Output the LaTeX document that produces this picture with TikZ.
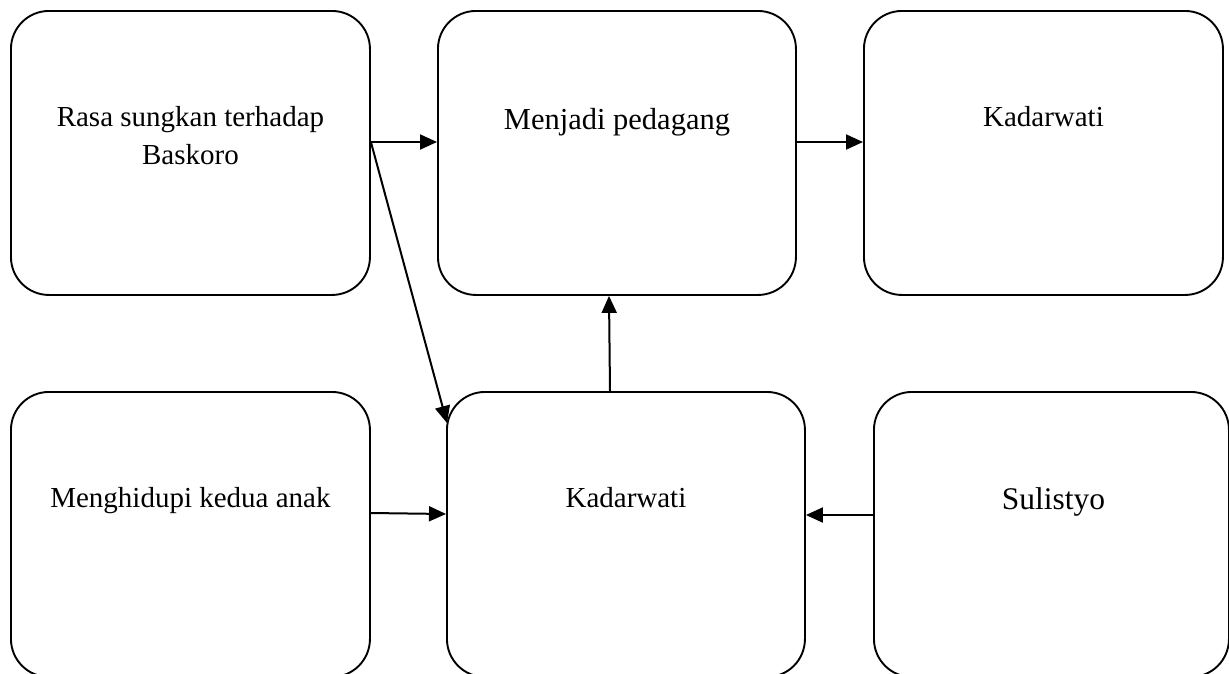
\documentclass[tikz,border=0pt]{standalone}
\usepackage{fontspec}
\setmainfont{Liberation Serif}
\usetikzlibrary{arrows.meta}

\begin{document}
\begin{tikzpicture}[x=1pt, y=-1pt,
  box/.style={draw, line width=1.9pt, rounded corners=38pt, inner sep=0pt,
    minimum width=359pt, minimum height=284pt, anchor=north west},
  lbl/.style={inner sep=0pt, align=center, font=\fontsize{29}{38}\selectfont},
  biglbl/.style={inner sep=0pt, font=\fontsize{30.5}{36}\selectfont},
  arr/.style={line width=2pt, -{Triangle[length=17pt, width=15pt]}}]

\useasboundingbox (0,0) rectangle (1229,673);
\clip (0,0) rectangle (1229,673);

% boxes, top row
\node[box] (tl) at (10,10) {};
\node[box, minimum width=358pt] (tm) at (437,10) {};
\node[box] (tr) at (863,10) {};
% boxes, bottom row
\node[box, minimum height=285pt] (bl) at (10,391) {};
\node[box, minimum width=358pt, minimum height=285pt] (bm) at (446,391) {};
\node[box, minimum width=355pt, minimum height=285pt] (br) at (873,391) {};

% labels
\node[lbl, anchor=north] (tlt) at ([yshift=-96pt]tl.north) {Rasa sungkan terhadap\\Baskoro};
\node[biglbl, anchor=base] (tmt) at ([yshift=-119pt]tm.north) {Menjadi pedagang};
\node[lbl, anchor=base] (trt) at ([yshift=-116pt]tr.north) {Kadarwati};
\node[lbl, anchor=base] (blt) at ([yshift=-116pt]bl.north) {Menghidupi kedua anak};
\node[lbl, anchor=base] (bmt) at ([yshift=-116pt]bm.north) {Kadarwati};
\node[biglbl, font=\fontsize{31.5}{36}\selectfont, anchor=base] (brt) at ([xshift=2pt,yshift=-118pt]br.north) {Sulistyo};

% connectors
\draw[arr] (tl.east |- 0,142) -- (tm.west |- 0,142);
\draw[arr] (tm.east |- 0,142) -- (tr.west |- 0,142);
\draw[arr] (tl.east |- 0,142) -- ([xshift=1pt, yshift=-32pt]bm.north west);
\draw[arr] (bl.east |- 0,513) -- (bm.west |- 0,514);
\draw[arr] (br.west |- 0,515) -- (bm.east |- 0,515);
\draw[arr] (bm.north -| 610,0) -- (tm.south -| 609,0);

\end{tikzpicture}
\end{document}
